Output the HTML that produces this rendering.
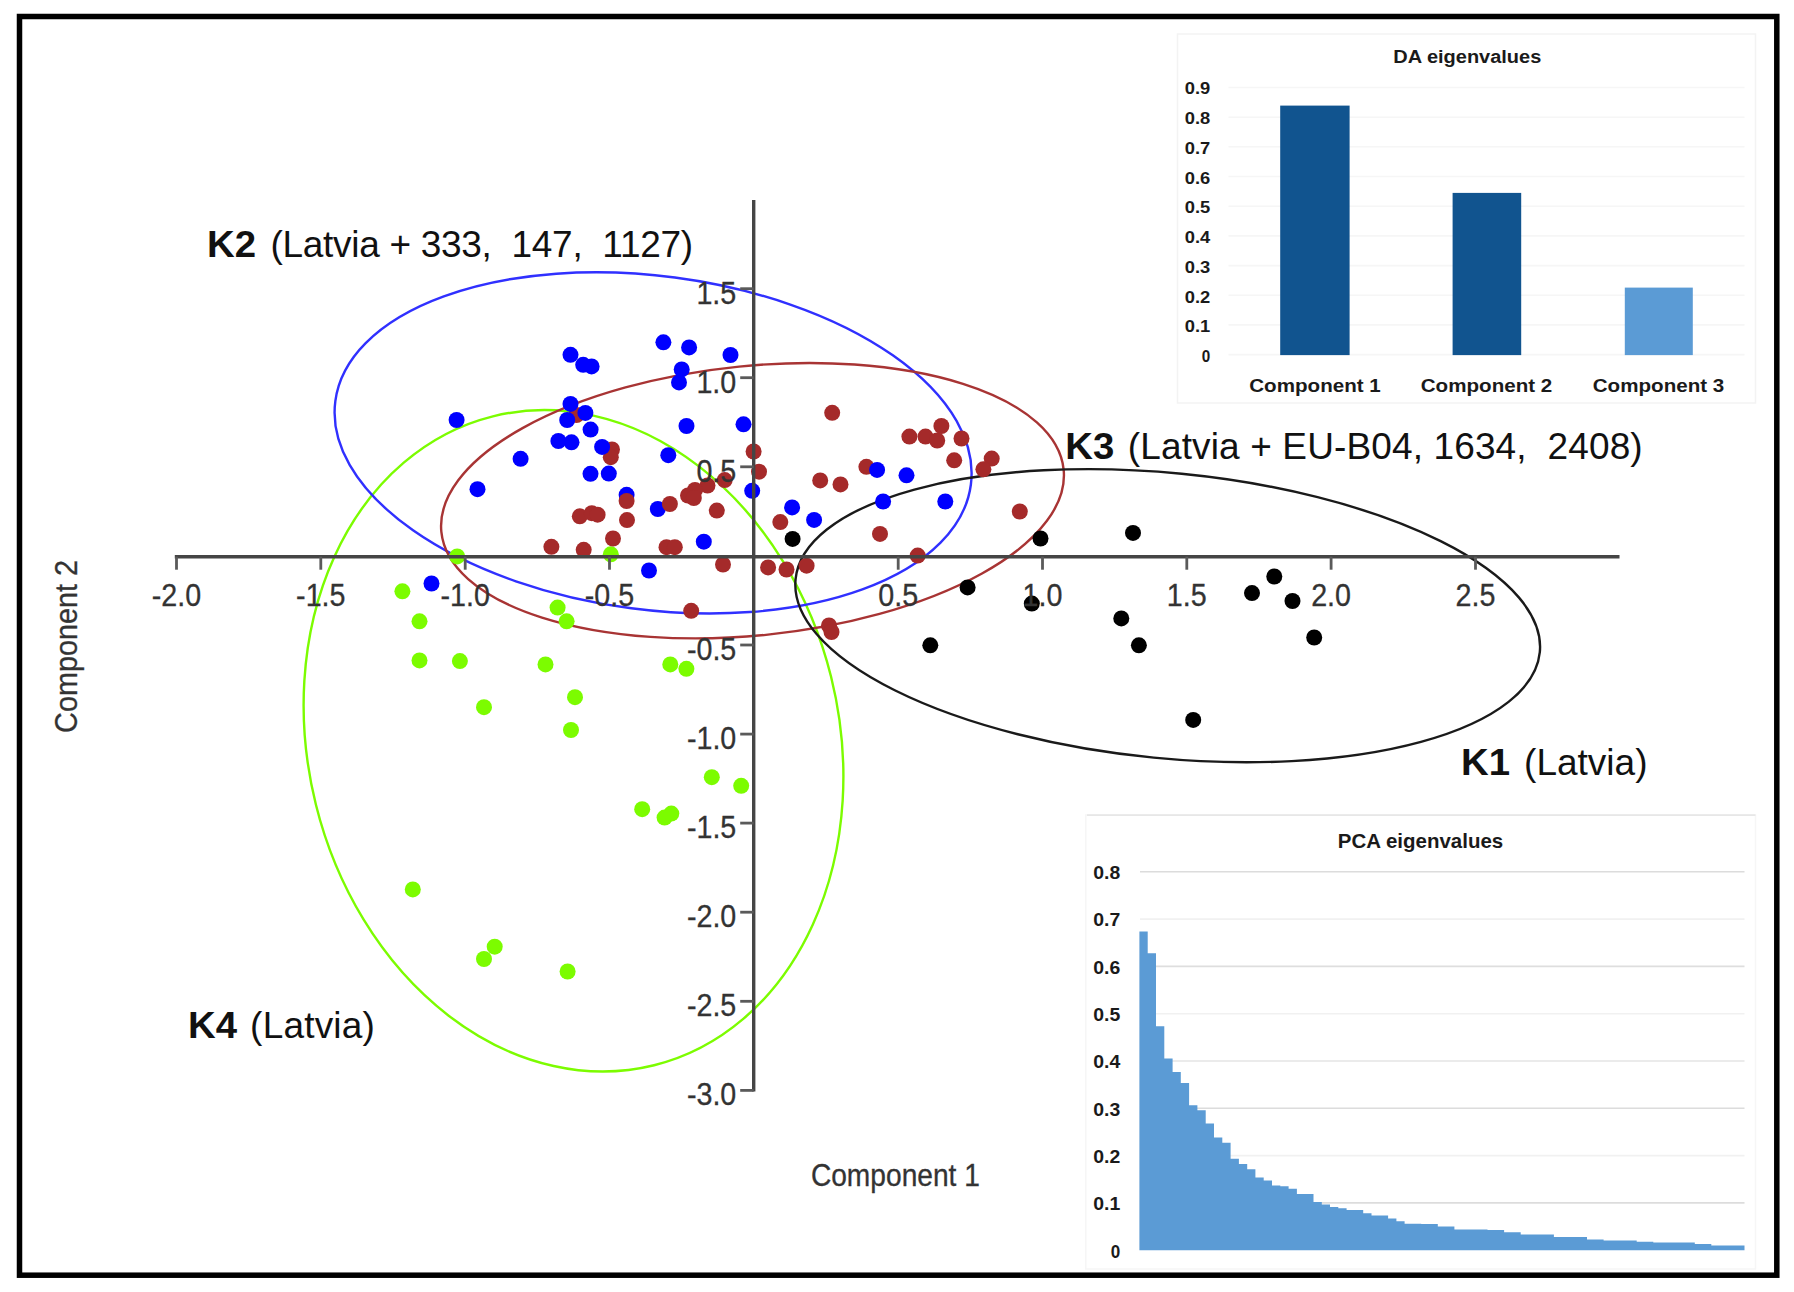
<!DOCTYPE html>
<html><head><meta charset="utf-8"><title>DAPC scatter</title>
<style>html,body{margin:0;padding:0;background:#fff}svg{display:block}</style></head>
<body>
<svg width="1794" height="1292" viewBox="0 0 1794 1292">
<rect x="0" y="0" width="1794" height="1292" fill="#fff"/>
<g>
<g id="da">
<rect x="1177.5" y="34" width="578" height="369" fill="#fff" stroke="#f3f3f3" stroke-width="1.5"/>
<line x1="1228.5" x2="1744.5" y1="354.6" y2="354.6" stroke="#f6f6f6" stroke-width="1.6"/>
<text x="1210.3" y="362.2" text-anchor="end" font-size="17" font-family="'Liberation Sans', Arial, sans-serif" font-weight="bold" fill="#1a1a1a" textLength="8.5" lengthAdjust="spacingAndGlyphs">0</text>
<line x1="1228.5" x2="1744.5" y1="324.9" y2="324.9" stroke="#f6f6f6" stroke-width="1.6"/>
<text x="1210.3" y="332.4" text-anchor="end" font-size="17" font-family="'Liberation Sans', Arial, sans-serif" font-weight="bold" fill="#1a1a1a" textLength="25.5" lengthAdjust="spacingAndGlyphs">0.1</text>
<line x1="1228.5" x2="1744.5" y1="295.2" y2="295.2" stroke="#f6f6f6" stroke-width="1.6"/>
<text x="1210.3" y="302.7" text-anchor="end" font-size="17" font-family="'Liberation Sans', Arial, sans-serif" font-weight="bold" fill="#1a1a1a" textLength="25.5" lengthAdjust="spacingAndGlyphs">0.2</text>
<line x1="1228.5" x2="1744.5" y1="265.6" y2="265.6" stroke="#f6f6f6" stroke-width="1.6"/>
<text x="1210.3" y="272.9" text-anchor="end" font-size="17" font-family="'Liberation Sans', Arial, sans-serif" font-weight="bold" fill="#1a1a1a" textLength="25.5" lengthAdjust="spacingAndGlyphs">0.3</text>
<line x1="1228.5" x2="1744.5" y1="235.9" y2="235.9" stroke="#f6f6f6" stroke-width="1.6"/>
<text x="1210.3" y="243.1" text-anchor="end" font-size="17" font-family="'Liberation Sans', Arial, sans-serif" font-weight="bold" fill="#1a1a1a" textLength="25.5" lengthAdjust="spacingAndGlyphs">0.4</text>
<line x1="1228.5" x2="1744.5" y1="206.2" y2="206.2" stroke="#f6f6f6" stroke-width="1.6"/>
<text x="1210.3" y="213.3" text-anchor="end" font-size="17" font-family="'Liberation Sans', Arial, sans-serif" font-weight="bold" fill="#1a1a1a" textLength="25.5" lengthAdjust="spacingAndGlyphs">0.5</text>
<line x1="1228.5" x2="1744.5" y1="176.5" y2="176.5" stroke="#f6f6f6" stroke-width="1.6"/>
<text x="1210.3" y="183.6" text-anchor="end" font-size="17" font-family="'Liberation Sans', Arial, sans-serif" font-weight="bold" fill="#1a1a1a" textLength="25.5" lengthAdjust="spacingAndGlyphs">0.6</text>
<line x1="1228.5" x2="1744.5" y1="146.8" y2="146.8" stroke="#f6f6f6" stroke-width="1.6"/>
<text x="1210.3" y="153.8" text-anchor="end" font-size="17" font-family="'Liberation Sans', Arial, sans-serif" font-weight="bold" fill="#1a1a1a" textLength="25.5" lengthAdjust="spacingAndGlyphs">0.7</text>
<line x1="1228.5" x2="1744.5" y1="117.2" y2="117.2" stroke="#f6f6f6" stroke-width="1.6"/>
<text x="1210.3" y="124.0" text-anchor="end" font-size="17" font-family="'Liberation Sans', Arial, sans-serif" font-weight="bold" fill="#1a1a1a" textLength="25.5" lengthAdjust="spacingAndGlyphs">0.8</text>
<line x1="1228.5" x2="1744.5" y1="87.5" y2="87.5" stroke="#f6f6f6" stroke-width="1.6"/>
<text x="1210.3" y="94.3" text-anchor="end" font-size="17" font-family="'Liberation Sans', Arial, sans-serif" font-weight="bold" fill="#1a1a1a" textLength="25.5" lengthAdjust="spacingAndGlyphs">0.9</text>
<rect x="1280.2" y="105.6" width="69.4" height="249.5" fill="#11548f"/>
<rect x="1452.6" y="192.9" width="68.6" height="162.2" fill="#11548f"/>
<rect x="1624.8" y="287.6" width="68.0" height="67.5" fill="#5b9bd5"/>
<text x="1315" y="392.2" text-anchor="middle" font-size="19" font-family="'Liberation Sans', Arial, sans-serif" font-weight="bold" fill="#1a1a1a" textLength="131.5" lengthAdjust="spacingAndGlyphs">Component 1</text>
<text x="1486.5" y="392.2" text-anchor="middle" font-size="19" font-family="'Liberation Sans', Arial, sans-serif" font-weight="bold" fill="#1a1a1a" textLength="131.5" lengthAdjust="spacingAndGlyphs">Component 2</text>
<text x="1658.5" y="392.2" text-anchor="middle" font-size="19" font-family="'Liberation Sans', Arial, sans-serif" font-weight="bold" fill="#1a1a1a" textLength="131.5" lengthAdjust="spacingAndGlyphs">Component 3</text>
<text x="1467.3" y="62.8" text-anchor="middle" font-size="17.5" font-family="'Liberation Sans', Arial, sans-serif" font-weight="bold" fill="#1a1a1a" textLength="148" lengthAdjust="spacingAndGlyphs">DA eigenvalues</text>
</g>
<g id="pca">
<rect x="1085.8" y="815" width="669.7" height="454" fill="#fff" stroke="#f6f6f6" stroke-width="1.5"/>
<line x1="1087" x2="1755.5" y1="815.1" y2="815.1" stroke="#e7e7e7" stroke-width="1.6"/>
<text x="1120.2" y="1257.5" text-anchor="end" font-size="17.5" font-family="'Liberation Sans', Arial, sans-serif" font-weight="bold" fill="#1a1a1a" textLength="9.5" lengthAdjust="spacingAndGlyphs">0</text>
<line x1="1140" x2="1744.5" y1="1202.9" y2="1202.9" stroke="#dcdcdc" stroke-width="1.6"/>
<text x="1120.2" y="1210.2" text-anchor="end" font-size="17.5" font-family="'Liberation Sans', Arial, sans-serif" font-weight="bold" fill="#1a1a1a" textLength="27" lengthAdjust="spacingAndGlyphs">0.1</text>
<line x1="1140" x2="1744.5" y1="1155.6" y2="1155.6" stroke="#f1f1f1" stroke-width="1.6"/>
<text x="1120.2" y="1162.9" text-anchor="end" font-size="17.5" font-family="'Liberation Sans', Arial, sans-serif" font-weight="bold" fill="#1a1a1a" textLength="27" lengthAdjust="spacingAndGlyphs">0.2</text>
<line x1="1140" x2="1744.5" y1="1108.3" y2="1108.3" stroke="#dcdcdc" stroke-width="1.6"/>
<text x="1120.2" y="1115.6" text-anchor="end" font-size="17.5" font-family="'Liberation Sans', Arial, sans-serif" font-weight="bold" fill="#1a1a1a" textLength="27" lengthAdjust="spacingAndGlyphs">0.3</text>
<line x1="1140" x2="1744.5" y1="1061.0" y2="1061.0" stroke="#e4e4e4" stroke-width="1.6"/>
<text x="1120.2" y="1068.3" text-anchor="end" font-size="17.5" font-family="'Liberation Sans', Arial, sans-serif" font-weight="bold" fill="#1a1a1a" textLength="27" lengthAdjust="spacingAndGlyphs">0.4</text>
<line x1="1140" x2="1744.5" y1="1013.7" y2="1013.7" stroke="#f1f1f1" stroke-width="1.6"/>
<text x="1120.2" y="1021.0" text-anchor="end" font-size="17.5" font-family="'Liberation Sans', Arial, sans-serif" font-weight="bold" fill="#1a1a1a" textLength="27" lengthAdjust="spacingAndGlyphs">0.5</text>
<line x1="1140" x2="1744.5" y1="966.4" y2="966.4" stroke="#dedede" stroke-width="1.6"/>
<text x="1120.2" y="973.7" text-anchor="end" font-size="17.5" font-family="'Liberation Sans', Arial, sans-serif" font-weight="bold" fill="#1a1a1a" textLength="27" lengthAdjust="spacingAndGlyphs">0.6</text>
<line x1="1140" x2="1744.5" y1="919.1" y2="919.1" stroke="#f1f1f1" stroke-width="1.6"/>
<text x="1120.2" y="926.4" text-anchor="end" font-size="17.5" font-family="'Liberation Sans', Arial, sans-serif" font-weight="bold" fill="#1a1a1a" textLength="27" lengthAdjust="spacingAndGlyphs">0.7</text>
<line x1="1140" x2="1744.5" y1="871.8" y2="871.8" stroke="#dcdcdc" stroke-width="1.6"/>
<text x="1120.2" y="879.1" text-anchor="end" font-size="17.5" font-family="'Liberation Sans', Arial, sans-serif" font-weight="bold" fill="#1a1a1a" textLength="27" lengthAdjust="spacingAndGlyphs">0.8</text>
<path d="M1139.4,1250.2 L1139.4,931.6 L1147.7,931.6 L1147.7,953.3 L1156.0,953.3 L1156.0,1026.2 L1164.3,1026.2 L1164.3,1058.5 L1172.6,1058.5 L1172.6,1072.1 L1180.8,1072.1 L1180.8,1083.0 L1189.1,1083.0 L1189.1,1105.2 L1197.4,1105.2 L1197.4,1110.2 L1205.7,1110.2 L1205.7,1123.6 L1214.0,1123.6 L1214.0,1137.5 L1222.3,1137.5 L1222.3,1142.8 L1230.6,1142.8 L1230.6,1158.7 L1238.9,1158.7 L1238.9,1163.9 L1247.2,1163.9 L1247.2,1169.2 L1255.4,1169.2 L1255.4,1177.6 L1263.7,1177.6 L1263.7,1180.4 L1272.0,1180.4 L1272.0,1185.6 L1280.3,1185.6 L1280.3,1186.2 L1288.6,1186.2 L1288.6,1188.7 L1296.9,1188.7 L1296.9,1194.0 L1305.2,1194.0 L1305.2,1194.0 L1313.5,1194.0 L1313.5,1202.0 L1321.8,1202.0 L1321.8,1204.6 L1330.0,1204.6 L1330.0,1207.1 L1338.3,1207.1 L1338.3,1208.2 L1346.6,1208.2 L1346.6,1210.1 L1354.9,1210.1 L1354.9,1210.1 L1363.2,1210.1 L1363.2,1213.2 L1371.5,1213.2 L1371.5,1215.4 L1379.8,1215.4 L1379.8,1215.4 L1388.1,1215.4 L1388.1,1218.5 L1396.4,1218.5 L1396.4,1221.3 L1404.6,1221.3 L1404.6,1223.8 L1412.9,1223.8 L1412.9,1223.8 L1421.2,1223.8 L1421.2,1223.9 L1429.5,1223.9 L1429.5,1223.9 L1437.8,1223.9 L1437.8,1226.5 L1446.1,1226.5 L1446.1,1226.5 L1454.4,1226.5 L1454.4,1229.5 L1462.7,1229.5 L1462.7,1229.5 L1471.0,1229.5 L1471.0,1229.5 L1479.3,1229.5 L1479.3,1229.5 L1487.5,1229.5 L1487.5,1230.1 L1495.8,1230.1 L1495.8,1230.1 L1504.1,1230.1 L1504.1,1232.2 L1512.4,1232.2 L1512.4,1232.2 L1520.7,1232.2 L1520.7,1234.5 L1529.0,1234.5 L1529.0,1234.5 L1537.3,1234.5 L1537.3,1234.5 L1545.6,1234.5 L1545.6,1234.5 L1553.9,1234.5 L1553.9,1237.1 L1562.1,1237.1 L1562.1,1237.1 L1570.4,1237.1 L1570.4,1237.1 L1578.7,1237.1 L1578.7,1237.1 L1587.0,1237.1 L1587.0,1239.5 L1595.3,1239.5 L1595.3,1239.5 L1603.6,1239.5 L1603.6,1240.6 L1611.9,1240.6 L1611.9,1240.6 L1620.2,1240.6 L1620.2,1240.6 L1628.5,1240.6 L1628.5,1240.6 L1636.7,1240.6 L1636.7,1241.7 L1645.0,1241.7 L1645.0,1241.7 L1653.3,1241.7 L1653.3,1242.5 L1661.6,1242.5 L1661.6,1242.5 L1669.9,1242.5 L1669.9,1242.5 L1678.2,1242.5 L1678.2,1242.5 L1686.5,1242.5 L1686.5,1242.5 L1694.8,1242.5 L1694.8,1244.1 L1703.1,1244.1 L1703.1,1244.1 L1711.3,1244.1 L1711.3,1245.4 L1719.6,1245.4 L1719.6,1245.4 L1727.9,1245.4 L1727.9,1245.4 L1736.2,1245.4 L1736.2,1245.4 L1744.5,1245.4 L1744.5,1250.2 Z" fill="#5b9bd5"/>
<text x="1420.5" y="848" text-anchor="middle" font-size="20.5" font-family="'Liberation Sans', Arial, sans-serif" font-weight="bold" fill="#1a1a1a" textLength="165.5" lengthAdjust="spacingAndGlyphs">PCA eigenvalues</text>
</g>
<ellipse cx="573.5" cy="740.8" rx="334.3" ry="265.4" transform="rotate(76.05 573.5 740.8)" fill="none" stroke="#7CFC00" stroke-width="2.4"/>
<ellipse cx="653.1" cy="442.9" rx="320.5" ry="166.8" transform="rotate(7.50 653.1 442.9)" fill="none" stroke="#3030ff" stroke-width="2.4"/>
<ellipse cx="752.5" cy="500.7" rx="312.7" ry="134.8" transform="rotate(-5.72 752.5 500.7)" fill="none" stroke="#a83434" stroke-width="2.4"/>
<ellipse cx="1167.7" cy="615.7" rx="373.9" ry="142.6" transform="rotate(5.60 1167.7 615.7)" fill="none" stroke="#1a1a1a" stroke-width="2.4"/>
<g fill="#7CFC00">
<circle cx="457.2" cy="556.4" r="8.0"/>
<circle cx="610.8" cy="554.3" r="8.0"/>
<circle cx="402.4" cy="591.3" r="8.0"/>
<circle cx="419.5" cy="621.3" r="8.0"/>
<circle cx="557.6" cy="607.6" r="8.0"/>
<circle cx="566.6" cy="621.3" r="8.0"/>
<circle cx="419.5" cy="660.4" r="8.0"/>
<circle cx="459.9" cy="661.1" r="8.0"/>
<circle cx="545.5" cy="664.4" r="8.0"/>
<circle cx="670.3" cy="664.4" r="8.0"/>
<circle cx="686.4" cy="668.8" r="8.0"/>
<circle cx="575" cy="697.2" r="8.0"/>
<circle cx="484" cy="707.2" r="8.0"/>
<circle cx="571" cy="730" r="8.0"/>
<circle cx="711.8" cy="777.2" r="8.0"/>
<circle cx="741.2" cy="785.8" r="8.0"/>
<circle cx="642.2" cy="809.2" r="8.0"/>
<circle cx="664.6" cy="817.6" r="8.0"/>
<circle cx="671.3" cy="813.6" r="8.0"/>
<circle cx="412.8" cy="889.4" r="8.0"/>
<circle cx="494.7" cy="946.7" r="8.0"/>
<circle cx="484" cy="959" r="8.0"/>
<circle cx="567.6" cy="971.5" r="8.0"/>
</g>
<g fill="#A52A2A">
<circle cx="576.5" cy="415" r="8.0"/>
<circle cx="612" cy="449.5" r="8.0"/>
<circle cx="610.8" cy="457.2" r="8.0"/>
<circle cx="866.4" cy="466.8" r="8.0"/>
</g>
<g fill="#0000FF">
<circle cx="570.5" cy="354.8" r="8.0"/>
<circle cx="583.2" cy="364.8" r="8.0"/>
<circle cx="591.6" cy="366.4" r="8.0"/>
<circle cx="663.4" cy="342.3" r="8.0"/>
<circle cx="689.1" cy="347.4" r="8.0"/>
<circle cx="730.5" cy="355" r="8.0"/>
<circle cx="681.7" cy="369.4" r="8.0"/>
<circle cx="679" cy="382.4" r="8.0"/>
<circle cx="570.5" cy="403.9" r="8.0"/>
<circle cx="585.4" cy="412.9" r="8.0"/>
<circle cx="567.2" cy="420" r="8.0"/>
<circle cx="590.6" cy="429.6" r="8.0"/>
<circle cx="456.6" cy="420" r="8.0"/>
<circle cx="558.4" cy="441" r="8.0"/>
<circle cx="571.5" cy="442.3" r="8.0"/>
<circle cx="602.1" cy="446.9" r="8.0"/>
<circle cx="686.5" cy="426" r="8.0"/>
<circle cx="743.5" cy="424.3" r="8.0"/>
<circle cx="520.6" cy="458.8" r="8.0"/>
<circle cx="668.3" cy="455.2" r="8.0"/>
<circle cx="590.5" cy="473.8" r="8.0"/>
<circle cx="608.8" cy="473.6" r="8.0"/>
<circle cx="477.5" cy="489.2" r="8.0"/>
<circle cx="626.6" cy="494.8" r="8.0"/>
<circle cx="657.8" cy="509" r="8.0"/>
<circle cx="752.2" cy="490.8" r="8.0"/>
<circle cx="703.8" cy="541.7" r="8.0"/>
<circle cx="649" cy="570.5" r="8.0"/>
<circle cx="431.5" cy="583.5" r="8.0"/>
<circle cx="792.1" cy="507.4" r="8.0"/>
<circle cx="814.1" cy="519.9" r="8.0"/>
<circle cx="877.1" cy="469.9" r="8.0"/>
<circle cx="906.5" cy="475.3" r="8.0"/>
<circle cx="883.1" cy="501.5" r="8.0"/>
<circle cx="945.3" cy="501.5" r="8.0"/>
</g>
<g fill="#A52A2A">
<circle cx="753.6" cy="451.5" r="8.0"/>
<circle cx="759" cy="471.7" r="8.0"/>
<circle cx="724.7" cy="480.1" r="8.0"/>
<circle cx="707.5" cy="485.5" r="8.0"/>
<circle cx="695" cy="490" r="8.0"/>
<circle cx="688" cy="495.5" r="8.0"/>
<circle cx="693.8" cy="498" r="8.0"/>
<circle cx="669.9" cy="504" r="8.0"/>
<circle cx="626.6" cy="501" r="8.0"/>
<circle cx="716.8" cy="510.6" r="8.0"/>
<circle cx="579.8" cy="516.3" r="8.0"/>
<circle cx="591.8" cy="513.2" r="8.0"/>
<circle cx="597.6" cy="514.7" r="8.0"/>
<circle cx="627" cy="520.1" r="8.0"/>
<circle cx="613" cy="538.5" r="8.0"/>
<circle cx="551.4" cy="546.8" r="8.0"/>
<circle cx="583.7" cy="549.8" r="8.0"/>
<circle cx="666.5" cy="547.2" r="8.0"/>
<circle cx="674.8" cy="547.2" r="8.0"/>
<circle cx="723" cy="564.5" r="8.0"/>
<circle cx="691.2" cy="610.8" r="8.0"/>
<circle cx="832.2" cy="412.8" r="8.0"/>
<circle cx="909.4" cy="436.6" r="8.0"/>
<circle cx="925.5" cy="436.6" r="8.0"/>
<circle cx="937.2" cy="440.5" r="8.0"/>
<circle cx="941.4" cy="426" r="8.0"/>
<circle cx="961.5" cy="438.5" r="8.0"/>
<circle cx="954.2" cy="460.3" r="8.0"/>
<circle cx="991.7" cy="458.6" r="8.0"/>
<circle cx="983.4" cy="469.3" r="8.0"/>
<circle cx="820.2" cy="480.4" r="8.0"/>
<circle cx="840.5" cy="484.4" r="8.0"/>
<circle cx="780.3" cy="522.1" r="8.0"/>
<circle cx="880" cy="533.9" r="8.0"/>
<circle cx="1019.8" cy="511.5" r="8.0"/>
<circle cx="917.7" cy="555.6" r="8.0"/>
<circle cx="768.1" cy="567.4" r="8.0"/>
<circle cx="786.5" cy="569.5" r="8.0"/>
<circle cx="806.6" cy="565.7" r="8.0"/>
<circle cx="829" cy="625.5" r="8.0"/>
<circle cx="831.5" cy="632" r="8.0"/>
</g>
<g fill="#000">
<circle cx="792.6" cy="538.9" r="8.0"/>
<circle cx="1040.5" cy="538.5" r="8.0"/>
<circle cx="1133" cy="532.9" r="8.0"/>
<circle cx="967.6" cy="587.4" r="8.0"/>
<circle cx="1031.8" cy="603.6" r="8.0"/>
<circle cx="1121.3" cy="618.4" r="8.0"/>
<circle cx="930.3" cy="645.3" r="8.0"/>
<circle cx="1138.9" cy="645.3" r="8.0"/>
<circle cx="1252" cy="593.1" r="8.0"/>
<circle cx="1274.3" cy="576.5" r="8.0"/>
<circle cx="1292.5" cy="601" r="8.0"/>
<circle cx="1314.2" cy="637.5" r="8.0"/>
<circle cx="1193.2" cy="719.9" r="8.0"/>
</g>
<g stroke="#454545" stroke-width="3.4" fill="none">
<line x1="174.8" x2="1619.5" y1="556.7" y2="556.7"/>
<line x1="753.7" x2="753.7" y1="200" y2="1091.6"/>
</g>
<g stroke="#5a5a5a" stroke-width="2.8" fill="none">
<line x1="176.5" x2="176.5" y1="556.7" y2="569.7"/>
<line x1="320.8" x2="320.8" y1="556.7" y2="569.7"/>
<line x1="465.2" x2="465.2" y1="556.7" y2="569.7"/>
<line x1="609.5" x2="609.5" y1="556.7" y2="569.7"/>
<line x1="898.2" x2="898.2" y1="556.7" y2="569.7"/>
<line x1="1042.5" x2="1042.5" y1="556.7" y2="569.7"/>
<line x1="1186.8" x2="1186.8" y1="556.7" y2="569.7"/>
<line x1="1331.1" x2="1331.1" y1="556.7" y2="569.7"/>
<line x1="1475.5" x2="1475.5" y1="556.7" y2="569.7"/>
<line x1="740.2" x2="753.7" y1="288.7" y2="288.7"/>
<line x1="740.2" x2="753.7" y1="377.7" y2="377.7"/>
<line x1="740.2" x2="753.7" y1="466.8" y2="466.8"/>
<line x1="740.2" x2="753.7" y1="645.0" y2="645.0"/>
<line x1="740.2" x2="753.7" y1="734.1" y2="734.1"/>
<line x1="740.2" x2="753.7" y1="823.1" y2="823.1"/>
<line x1="740.2" x2="753.7" y1="912.2" y2="912.2"/>
<line x1="740.2" x2="753.7" y1="1001.3" y2="1001.3"/>
<line x1="740.2" x2="753.7" y1="1090.4" y2="1090.4"/>
</g>
<g font-size="30.5" font-family="'Liberation Sans', Arial, sans-serif" fill="#333" stroke="#333" stroke-width="0.3">
<text x="176.5" y="605.6" text-anchor="middle" textLength="49.4" lengthAdjust="spacingAndGlyphs">-2.0</text>
<text x="320.8" y="605.6" text-anchor="middle" textLength="49.4" lengthAdjust="spacingAndGlyphs">-1.5</text>
<text x="465.2" y="605.6" text-anchor="middle" textLength="49.4" lengthAdjust="spacingAndGlyphs">-1.0</text>
<text x="609.5" y="605.6" text-anchor="middle" textLength="49.4" lengthAdjust="spacingAndGlyphs">-0.5</text>
<text x="898.2" y="605.6" text-anchor="middle" textLength="39.9" lengthAdjust="spacingAndGlyphs">0.5</text>
<text x="1042.5" y="605.6" text-anchor="middle" textLength="39.9" lengthAdjust="spacingAndGlyphs">1.0</text>
<text x="1186.8" y="605.6" text-anchor="middle" textLength="39.9" lengthAdjust="spacingAndGlyphs">1.5</text>
<text x="1331.1" y="605.6" text-anchor="middle" textLength="39.9" lengthAdjust="spacingAndGlyphs">2.0</text>
<text x="1475.5" y="605.6" text-anchor="middle" textLength="39.9" lengthAdjust="spacingAndGlyphs">2.5</text>
<text x="736.3" y="303.6" text-anchor="end" textLength="39.9" lengthAdjust="spacingAndGlyphs">1.5</text>
<text x="736.3" y="392.6" text-anchor="end" textLength="39.9" lengthAdjust="spacingAndGlyphs">1.0</text>
<text x="736.3" y="481.7" text-anchor="end" textLength="39.9" lengthAdjust="spacingAndGlyphs">0.5</text>
<text x="736.3" y="659.9" text-anchor="end" textLength="49.4" lengthAdjust="spacingAndGlyphs">-0.5</text>
<text x="736.3" y="749.0" text-anchor="end" textLength="49.4" lengthAdjust="spacingAndGlyphs">-1.0</text>
<text x="736.3" y="838.0" text-anchor="end" textLength="49.4" lengthAdjust="spacingAndGlyphs">-1.5</text>
<text x="736.3" y="927.1" text-anchor="end" textLength="49.4" lengthAdjust="spacingAndGlyphs">-2.0</text>
<text x="736.3" y="1016.2" text-anchor="end" textLength="49.4" lengthAdjust="spacingAndGlyphs">-2.5</text>
<text x="736.3" y="1105.3" text-anchor="end" textLength="49.4" lengthAdjust="spacingAndGlyphs">-3.0</text>
</g>
<g font-family="'Liberation Sans', Arial, sans-serif" fill="#333" stroke="#333" stroke-width="0.3" font-size="30.5">
<text x="895.4" y="1185.8" text-anchor="middle" textLength="169" lengthAdjust="spacingAndGlyphs">Component 1</text>
<text transform="translate(76.6,646.4) rotate(-90)" text-anchor="middle" textLength="173" lengthAdjust="spacingAndGlyphs">Component 2</text>
</g>
<text y="257.3" font-size="37" font-family="'Liberation Sans', Arial, sans-serif" fill="#111"><tspan x="207.10000000000002" font-weight="bold" textLength="49" lengthAdjust="spacingAndGlyphs">K2</tspan><tspan x="270.40000000000003" textLength="422.7" lengthAdjust="spacing" style="white-space:pre">(Latvia + 333,  147,  1127)</tspan></text>
<text y="459.3" font-size="37" font-family="'Liberation Sans', Arial, sans-serif" fill="#111"><tspan x="1065.3" font-weight="bold" textLength="49" lengthAdjust="spacingAndGlyphs">K3</tspan><tspan x="1127.8" textLength="514.9" lengthAdjust="spacing" style="white-space:pre">(Latvia + EU-B04, 1634,  2408)</tspan></text>
<text y="774.8" font-size="37" font-family="'Liberation Sans', Arial, sans-serif" fill="#111"><tspan x="1461.0" font-weight="bold" textLength="49" lengthAdjust="spacingAndGlyphs">K1</tspan><tspan x="1524.1" textLength="123.4" lengthAdjust="spacing" style="white-space:pre">(Latvia)</tspan></text>
<text y="1038.3" font-size="37" font-family="'Liberation Sans', Arial, sans-serif" fill="#111"><tspan x="188.10000000000002" font-weight="bold" textLength="49" lengthAdjust="spacingAndGlyphs">K4</tspan><tspan x="250.10000000000002" textLength="124.8" lengthAdjust="spacing" style="white-space:pre">(Latvia)</tspan></text>
<rect x="19.5" y="16.5" width="1757.3" height="1258.7" fill="none" stroke="#000" stroke-width="5.5"/>
</g>
</svg>
</body></html>
